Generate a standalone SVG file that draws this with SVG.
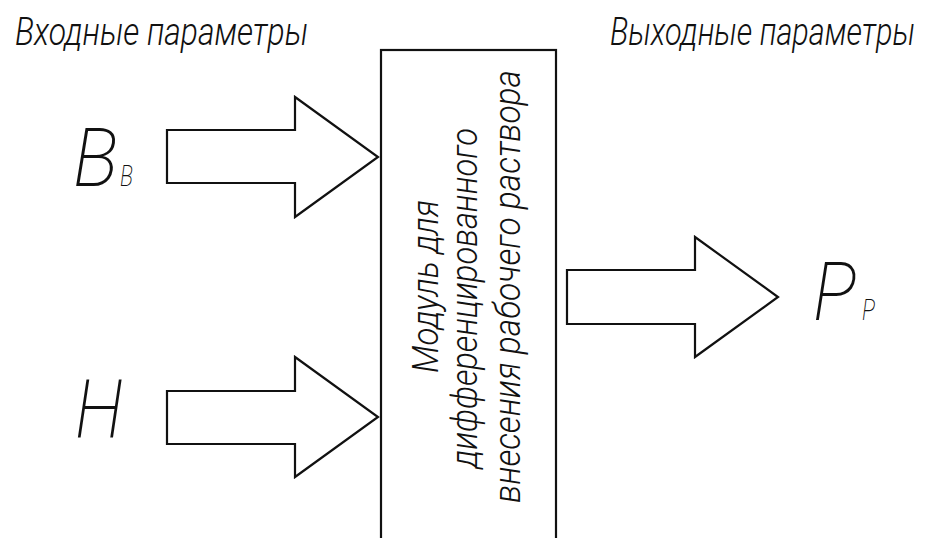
<svg xmlns="http://www.w3.org/2000/svg" width="930" height="538" viewBox="0 0 930 538">
<style>
.t{font-family:Roboto,"Liberation Sans",sans-serif;font-style:italic;fill:#111}
.h{font-size:38px;font-weight:300}
.m{font-size:36px;font-weight:300}
.big{font-size:82px;font-weight:200}
.sub{font-size:30px;font-weight:200}
.ar{fill:#fff;stroke:#111;stroke-width:2.2;stroke-linejoin:miter}
</style>
<rect width="930" height="538" fill="#fff"/>
<g id="titles">
<text class="t h" x="15" y="45" textLength="293" lengthAdjust="spacingAndGlyphs">Входные параметры</text>
<text class="t h" x="610" y="45" textLength="305" lengthAdjust="spacingAndGlyphs">Выходные параметры</text>
</g>
<g id="module">
<rect x="381" y="50" width="175" height="500" fill="#fff" stroke="#111" stroke-width="2.2"/>
<text class="t m" transform="translate(438,373) rotate(-90)" textLength="173" lengthAdjust="spacingAndGlyphs">Модуль для</text>
<text class="t m" transform="translate(477,468) rotate(-90)" textLength="340" lengthAdjust="spacingAndGlyphs">дифференцированного</text>
<text class="t m" transform="translate(520,503) rotate(-90)" textLength="433" lengthAdjust="spacingAndGlyphs">внесения рабочего раствора</text>
</g>
<g id="input-Bv">
<text class="t big" x="73" y="186" textLength="45" lengthAdjust="spacingAndGlyphs">B</text>
<text class="t sub" x="120" y="186" textLength="13" lengthAdjust="spacingAndGlyphs">B</text>
</g>
<g id="input-H">
<text class="t big" x="75" y="437" textLength="48" lengthAdjust="spacingAndGlyphs">H</text>
</g>
<g id="output-Pp">
<text class="t big" x="813" y="320" textLength="43" lengthAdjust="spacingAndGlyphs">P</text>
<text class="t sub" x="862" y="320" textLength="13" lengthAdjust="spacingAndGlyphs">P</text>
</g>
<g id="connectors">
<polygon class="ar" points="167,130 295,130 295,97 378,157 295,217 295,183 167,183"/>
<polygon class="ar" points="167,391 295,391 295,357 378,417 295,477 295,444 167,444"/>
<polygon class="ar" points="567,270 695,270 695,237 778,297 695,357 695,324 567,324"/>
</g>
</svg>
